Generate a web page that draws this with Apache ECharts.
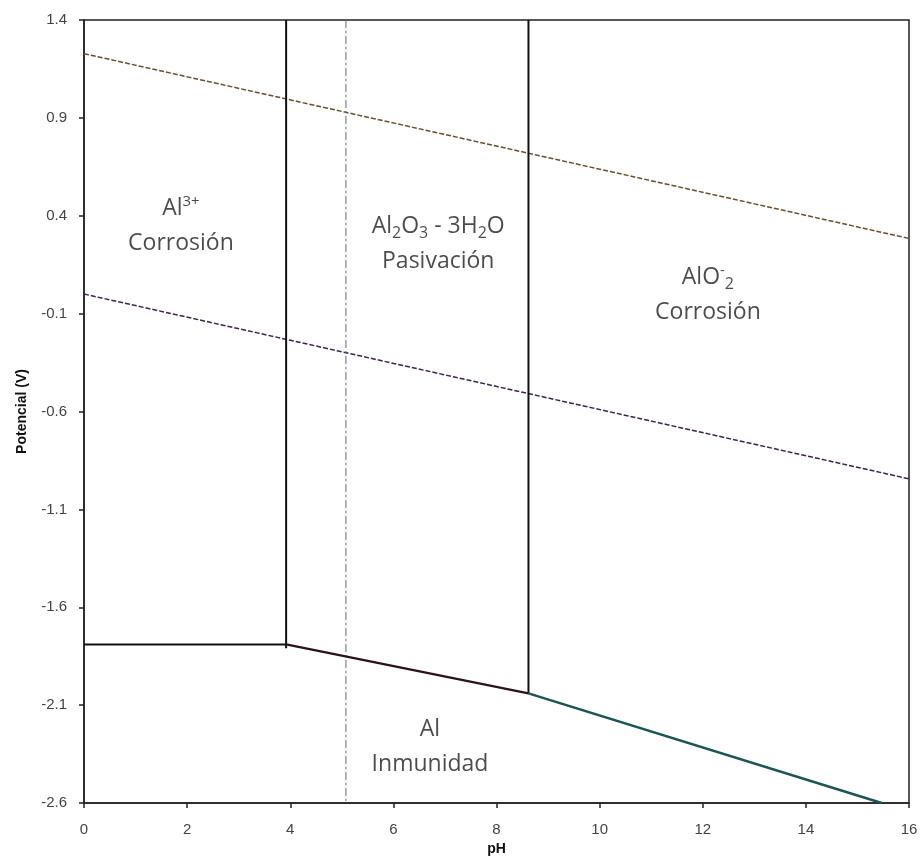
<!DOCTYPE html>
<html>
<head>
<meta charset="utf-8">
<script src="https://cdn.jsdelivr.net/npm/echarts@6/dist/echarts.min.js"></script>
<style>
	html, body { margin: 0; padding: 0; background: #fff; }
	#draw { width: 922px; height: 865px; }
</style>
</head>
<body>
<div id="draw"></div>
<script>
	// pH / potencial (V) de cada frontera del diagrama
	var yTicks = [-2.6, -2.1, -1.6, -1.1, -0.6, -0.1, 0.4, 0.9, 1.4];
	var xTicks = [0, 2, 4, 6, 8, 10, 12, 14, 16];

	var alIonPH = [0, 3.92];
	var alIonE = [-1.79, -1.79];
	var oxidoPH = [3.92, 8.62];
	var oxidoE = [-1.79, -2.04];
	var aluminatoPH = [8.62, 15.47];
	var aluminatoE = [-2.04, -2.6];
	var frontera1PH = [3.92, 3.92];
	var frontera1E = [1.4, -1.81];
	var frontera2PH = [8.62, 8.62];
	var frontera2E = [1.4, -2.04];
	var neutroPH = [5.08, 5.08];
	var neutroE = [1.4, -2.6];
	var oxigenoPH = [0, 16];
	var oxigenoE = [1.228, 0.284];
	var hidrogenoPH = [0, 16];
	var hidrogenoE = [0.0, -0.944];

	var zonaPH = [1.88, 6.87, 12.1, 6.71];
	var zonaE = [0.35, 0.256, -0.005, -2.316];
	var zonaTexto = [
		'{n|Al}{sup|3+}\n{n|Corrosión}',
		'{n|Al}{sub|2}{n|O}{sub|3}{n| - 3H}{sub|2}{n|O}\n{n|Pasivación}',
		'{n|AlO}{sup|-}{sub|2}\n{n|Corrosión}',
		'{n|Al}\n{n|Inmunidad}'
	];

	function pares(xs, ys) {
		return xs.map(function (x, i) { return [x, ys[i]]; });
	}

	function linea(xs, ys, color, width, type) {
		return {
			type: 'line',
			data: pares(xs, ys),
			showSymbol: false,
			symbol: 'none',
			silent: true,
			lineStyle: { color: color, width: width, type: type || 'solid' },
			z: 3
		};
	}

	var seris = [
		linea(oxigenoPH, oxigenoE, '#6e4e2e', 1.5, [5, 2]),
		linea(hidrogenoPH, hidrogenoE, '#3e2450', 1.5, [5, 2]),
		linea(neutroPH, neutroE, '#5f6b78', 1, [8, 3, 2, 3]),
		linea(frontera1PH, frontera1E, '#111', 2),
		linea(frontera2PH, frontera2E, '#111', 2),
		linea(alIonPH, alIonE, '#111', 2),
		linea(oxidoPH, oxidoE, '#2b1416', 2.2),
		linea(aluminatoPH, aluminatoE, '#1d5454', 2.5),
		{
			type: 'scatter',
			symbolSize: 0,
			silent: true,
			data: zonaPH.map(function (x, i) {
				return { value: [x, zonaE[i]], label: { formatter: zonaTexto[i] } };
			}),
			label: {
				show: true,
				position: 'inside',
				align: 'center',
				verticalAlign: 'middle',
				lineHeight: 35,
				rich: {
					n: { fontFamily: 'Open Sans', fontSize: 23, color: '#1e1e1e', lineHeight: 35 },
					sub: { fontFamily: 'Open Sans', fontSize: 16, color: '#1e1e1e', lineHeight: 35, padding: [13, 0, 0, 0] },
					sup: { fontFamily: 'Open Sans', fontSize: 15, color: '#1e1e1e', lineHeight: 35, padding: [0, 0, 13, 0] }
				}
			},
			z: 5
		}
	];

	var myChart = echarts.init(document.getElementById('draw'));
	myChart.setOption({
		animation: false,
		backgroundColor: '#fff',
		grid: {
			left: 84,
			right: 13,
			top: 20,
			bottom: 62,
			show: true,
			borderColor: '#222',
			borderWidth: 1.5
		},
		xAxis: {
			type: 'value',
			min: 0,
			max: 16,
			interval: 2,
			name: 'pH',
			nameLocation: 'middle',
			nameGap: 37,
			nameTextStyle: { fontFamily: 'Liberation Sans', fontWeight: 'bold', fontSize: 14, color: '#111' },
			axisLine: { show: true, onZero: false, lineStyle: { color: '#222', width: 1.5 } },
			axisTick: { show: true, inside: false, length: 5, lineStyle: { color: '#222', width: 1.5 }, customValues: xTicks },
			axisLabel: { fontFamily: 'Liberation Sans', fontSize: 15, color: '#444', margin: 19, customValues: xTicks },
			splitLine: { show: false }
		},
		yAxis: {
			type: 'value',
			min: -2.6,
			max: 1.4,
			name: 'Potencial (V)',
			nameLocation: 'middle',
			nameGap: 55,
			nameTextStyle: { fontFamily: 'Liberation Sans', fontWeight: 'bold', fontSize: 14, color: '#111' },
			axisLine: { show: true, onZero: false, lineStyle: { color: '#222', width: 1.5 } },
			axisTick: { show: true, inside: false, length: 5, lineStyle: { color: '#222', width: 1.5 }, customValues: yTicks },
			axisLabel: {
				fontFamily: 'Liberation Sans', fontSize: 15, color: '#444', margin: 17,
				customValues: yTicks,
				formatter: function (v) { return v.toFixed(1); }
			},
			splitLine: { show: false }
		},
		series: seris
	});
</script>
</body>
</html>
